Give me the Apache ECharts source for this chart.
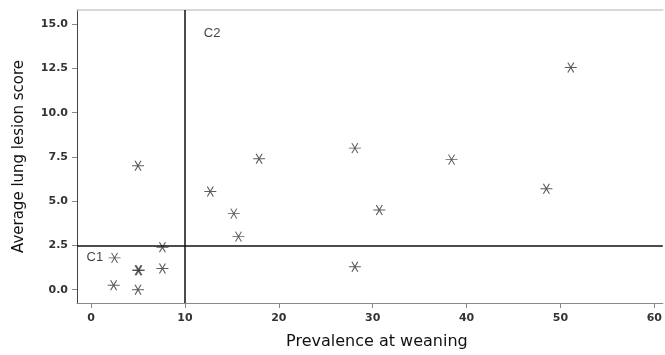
<!DOCTYPE html>
<html>
<head>
<meta charset="utf-8">
<script src="https://cdn.jsdelivr.net/npm/echarts@6/dist/echarts.min.js"></script>
<style>
  html, body { margin: 0; padding: 0; background: #fff; }
  #chart { width: 665px; height: 355px; }
</style>
</head>
<body>
<div id="chart"></div>
<script>
// prevalence at weaning (x) vs average lung lesion score (y)
var prevalence = [5.0, 2.5, 5.0, 5.1, 7.6, 7.6, 2.4, 5.0, 12.7, 17.9, 28.1, 15.2, 15.7, 30.7, 28.1, 51.1, 38.4, 48.5]
var lesionScore = [7.0, 1.8, 1.1, 1.1, 2.4, 1.2, 0.25, 0.0, 5.55, 7.4, 8.0, 4.3, 3.0, 4.5, 1.3, 12.55, 7.35, 5.7]

var xTicks = [0, 10, 20, 30, 40, 50, 60]
var yTicks = [0, 2.5, 5, 7.5, 10, 12.5, 15]

// cut-off lines
var xCut = 10
var yCut = 2.5

var groupNames = ['C1', 'C2']
var groupX = [0.4, 12.9]
var groupY = [1.85, 14.45]

var chart = echarts.init(document.getElementById('chart'))

var star = 'path://M0,5 L12,5 M3,0 L9,10 M9,0 L3,10'

var tickFont = {
  fontFamily: 'DejaVu Sans',
  fontWeight: 'bold',
  fontSize: 11,
  color: '#333'
}

chart.setOption({
  animation: false,
  backgroundColor: '#fff',
  grid: {
    left: 77,
    top: 10,
    right: 0,
    bottom: 48
  },
  xAxis: [
    {
      type: 'value',
      min: -1.5,
      max: 60.9,
      name: 'Prevalence at weaning',
      nameLocation: 'middle',
      nameGap: 31,
      nameTextStyle: {
        fontFamily: 'DejaVu Sans',
        fontSize: 16,
        color: '#111',
        padding: [0, 0, 0, 14]
      },
      splitLine: { show: false },
      axisLine: { onZero: false, lineStyle: { color: '#888', width: 1 } },
      axisTick: { show: true, length: 5, lineStyle: { color: '#888' }, customValues: xTicks },
      axisLabel: Object.assign({ margin: 10, customValues: xTicks }, tickFont)
    },
    {
      // top frame line only
      type: 'value',
      position: 'top',
      min: -1.5,
      max: 60.9,
      axisLine: { onZero: false, lineStyle: { color: '#ccc', width: 1.5 } },
      axisTick: { show: false },
      axisLabel: { show: false },
      splitLine: { show: false }
    }
  ],
  yAxis: {
    type: 'value',
    min: -0.75,
    max: 15.8,
    name: 'Average lung lesion score',
    nameLocation: 'middle',
    nameGap: 50,
    nameTextStyle: {
      fontFamily: 'DejaVu Sans',
      fontSize: 15,
      color: '#111'
    },
    splitLine: { show: false },
    axisLine: { show: true, onZero: false, lineStyle: { color: '#444', width: 1 } },
    axisTick: { show: true, length: 5, lineStyle: { color: '#888' }, customValues: yTicks },
    axisLabel: Object.assign({
      margin: 9,
      customValues: yTicks,
      formatter: function (v) { return v.toFixed(1) }
    }, tickFont)
  },
  series: [
    {
      type: 'scatter',
      symbol: star,
      symbolSize: [12, 10],
      itemStyle: { color: 'transparent', borderColor: '#333', borderWidth: 1 },
      data: prevalence.map(function (x, i) { return [x, lesionScore[i]] }),
      markLine: {
        silent: true,
        symbol: 'none',
        label: { show: false },
        lineStyle: { color: '#111', width: 1.5, type: 'solid' },
        data: [{ xAxis: xCut }, { yAxis: yCut }]
      },
      z: 3
    },
    {
      type: 'scatter',
      symbolSize: 0,
      data: groupNames.map(function (n, i) { return { name: n, value: [groupX[i], groupY[i]] } }),
      label: {
        show: true,
        position: 'inside',
        formatter: '{b}',
        fontFamily: 'Liberation Sans',
        fontSize: 13,
        color: '#111',
        backgroundColor: '#fff'
      },
      z: 4
    }
  ]
})
</script>
</body>
</html>
